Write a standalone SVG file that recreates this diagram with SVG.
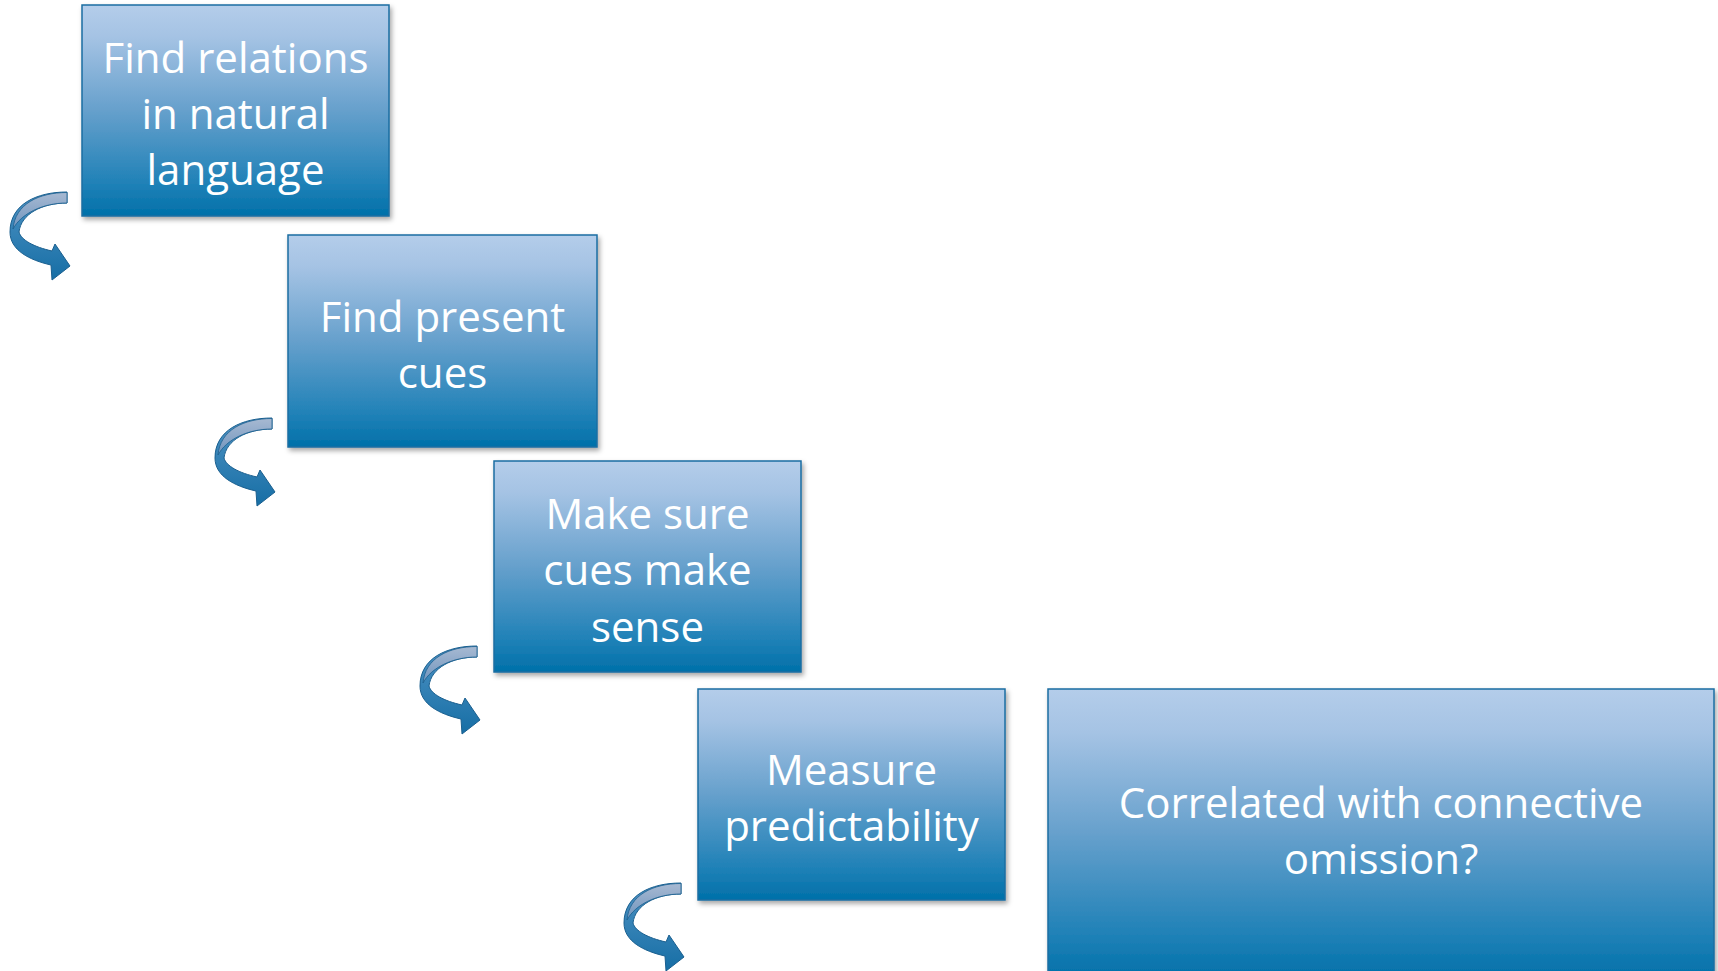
<svg xmlns="http://www.w3.org/2000/svg" width="1718" height="971" viewBox="0 0 1718 971">
  <defs>
    <linearGradient id="boxFill" x1="0" y1="0" x2="0" y2="1">
      <stop offset="0" stop-color="#b4cdea"/>
      <stop offset="0.15" stop-color="#a5c3e4"/>
      <stop offset="0.5" stop-color="#66a0cc"/>
      <stop offset="0.85" stop-color="#1f81b7"/>
      <stop offset="1" stop-color="#0070a9"/>
    </linearGradient>
    <linearGradient id="bandDark" x1="0" y1="0" x2="0" y2="1">
      <stop offset="0" stop-color="#4f93c4"/>
      <stop offset="1" stop-color="#166ea5"/>
    </linearGradient>
    <linearGradient id="bandLight" x1="0" y1="0" x2="0" y2="1">
      <stop offset="0" stop-color="#a7b9d2"/>
      <stop offset="1" stop-color="#6f94bd"/>
    </linearGradient>
    <filter id="shadow" x="-10%" y="-10%" width="125%" height="125%">
      <feDropShadow dx="2" dy="3" stdDeviation="2.5" flood-color="#000" flood-opacity="0.35"/>
    </filter>
    <!-- curved step arrow, origin at the top-right end of the band -->
    <g id="curvedArrow">
      <path class="band" d="M0,0 C-30,0 -57,12 -57,40 C-57,58 -38,68 -16,73 L-15,88 L3,74 L-12,52 L-15,59 C-33,55 -46,48 -48,40 C-46,22 -25,11 0,11 Z"/>
      <path class="face" d="M0,0.5 C-28,0.5 -52,12 -54,37 C-46,22 -25,11 0,11 Z"/>
    </g>
  </defs>
  <style>
    .box { fill: url(#boxFill); stroke: #1b6ea2; stroke-width: 1.5; filter: url(#shadow); }
    .label { font-family: "Open Sans", "Liberation Sans", sans-serif; font-size: 42px; fill: #ffffff; text-anchor: middle; }
    .band { fill: url(#bandDark); stroke: #1a5f8f; stroke-width: 1; stroke-linejoin: round; }
    .face { fill: url(#bandLight); stroke: #1a5f8f; stroke-width: 0.8; }
  </style>

  <rect width="1718" height="971" fill="#ffffff"/>

  <g id="connectors">
    <use href="#curvedArrow" x="67" y="192"/>
    <use href="#curvedArrow" x="272" y="418"/>
    <use href="#curvedArrow" x="477" y="646"/>
    <use href="#curvedArrow" x="681" y="883"/>
  </g>

  <g id="step-find-relations">
    <rect class="box" x="82" y="5" width="307" height="211"/>
    <text class="label" x="235.5" y="73">Find relations</text>
    <text class="label" x="235.5" y="129">in natural</text>
    <text class="label" x="235.5" y="185">language</text>
  </g>

  <g id="step-find-cues">
    <rect class="box" x="288" y="235" width="309" height="212"/>
    <text class="label" x="442.5" y="332">Find present</text>
    <text class="label" x="442.5" y="388">cues</text>
  </g>

  <g id="step-make-sense">
    <rect class="box" x="494" y="461" width="307" height="211"/>
    <text class="label" x="647.5" y="529">Make sure</text>
    <text class="label" x="647.5" y="585">cues make</text>
    <text class="label" x="647.5" y="642">sense</text>
  </g>

  <g id="step-measure">
    <rect class="box" x="698" y="689" width="307" height="211"/>
    <text class="label" x="851.5" y="785">Measure</text>
    <text class="label" x="851.5" y="841">predictability</text>
  </g>

  <g id="step-correlated">
    <rect class="box" x="1048" y="689" width="666" height="290"/>
    <text class="label" x="1381" y="818">Correlated with connective</text>
    <text class="label" x="1381" y="874">omission?</text>
  </g>
</svg>
